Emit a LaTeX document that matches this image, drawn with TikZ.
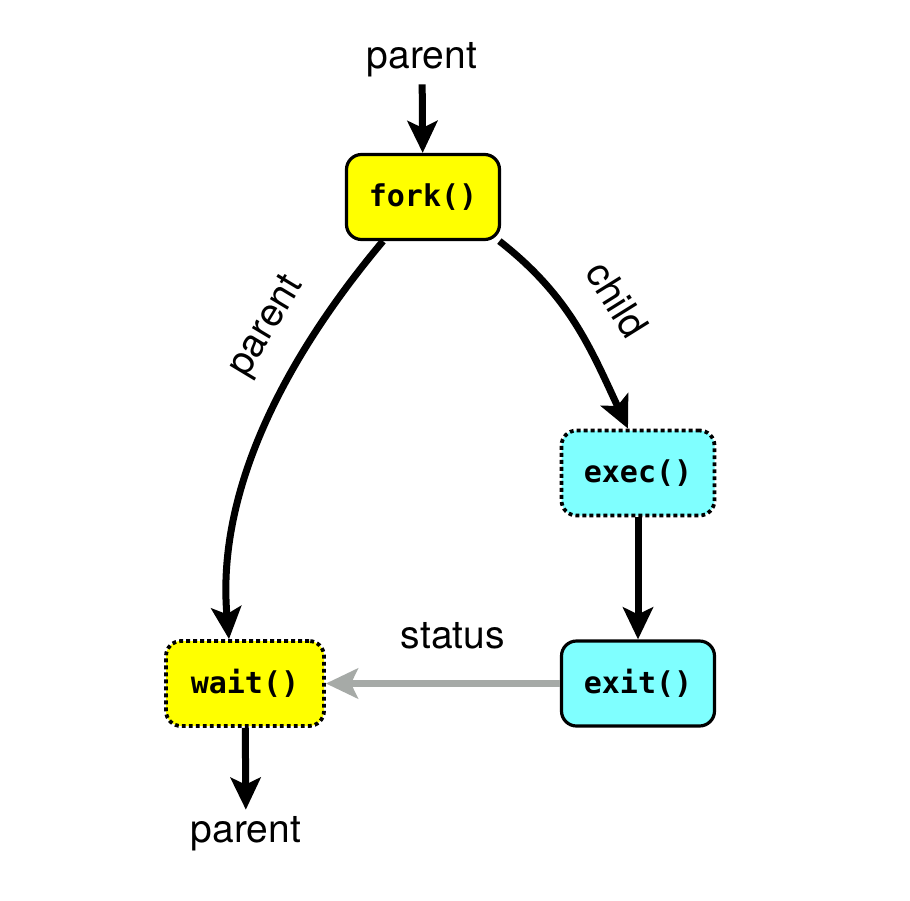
\documentclass[tikz,border=0pt]{standalone}
\usepackage{fontspec}
\setmainfont{TeX Gyre Heros}
\newfontfamily\codefont{DejaVu Sans Mono}
\usepackage{tikz}
\usetikzlibrary{positioning,arrows.meta}
\definecolor{lemon}{HTML}{FFFF00}
\definecolor{aqua}{HTML}{7FFFFF}
\definecolor{ash}{HTML}{A6AAA7}
\tikzset{
  arr/.style={-{Stealth[length=16pt,width=15pt,inset=3.5pt]}, line width=3.5pt, color=black},
  ret/.style={arr, color=ash, line width=3.5pt},
  call/.style={draw=black, line width=1.6pt, rounded corners=7.5pt,
               font=\codefont\bfseries\fontsize{15}{18}\selectfont,
               minimum width=76.5pt, minimum height=42.5pt, align=center},
  dotbox/.style={line width=1.9pt, dash pattern=on 1.9pt off 1.6pt},
  lbl/.style={font=\fontsize{19.5}{23}\selectfont, text=black},
}

\begin{document}
\begin{tikzpicture}[x=0.5pt,y=0.5pt]
  \useasboundingbox (0,0) rectangle (910,-900);
  \node[call, fill=lemon]                          (fork) at (423,-197) {fork()};
  \node[call, fill=aqua, dotbox]                   (exec) at (638,-473) {exec()};
  \node[call, fill=aqua, below=61pt of exec]       (exit) {exit()};
  \node[call, fill=lemon, dotbox, minimum width=79pt, left=117pt of exit] (wait) {wait()};
  \node[lbl] (top) at (422,-60)  {parent};
  \node[lbl] (bot) at (246,-834) {parent};
  \draw[arr] (top) -- (fork);
  \draw[arr] ([xshift=-20pt]fork.south) to[out=-130, in=95, looseness=0.9]
        node[lbl, pos=0.3, sloped, above=8pt] {parent} ([xshift=-8pt]wait.north);
  \draw[arr] (fork.-30) to[out=-38, in=115]
        node[lbl, pos=0.5, sloped, above=12pt] {child} ([xshift=-5pt]exec.north);
  \draw[arr] (exec) -- (exit);
  \draw[ret] (exit) -- node[lbl, above=12pt, xshift=5pt] {status} (wait);
  \draw[arr] (wait) -- (bot);
\end{tikzpicture}
\end{document}
